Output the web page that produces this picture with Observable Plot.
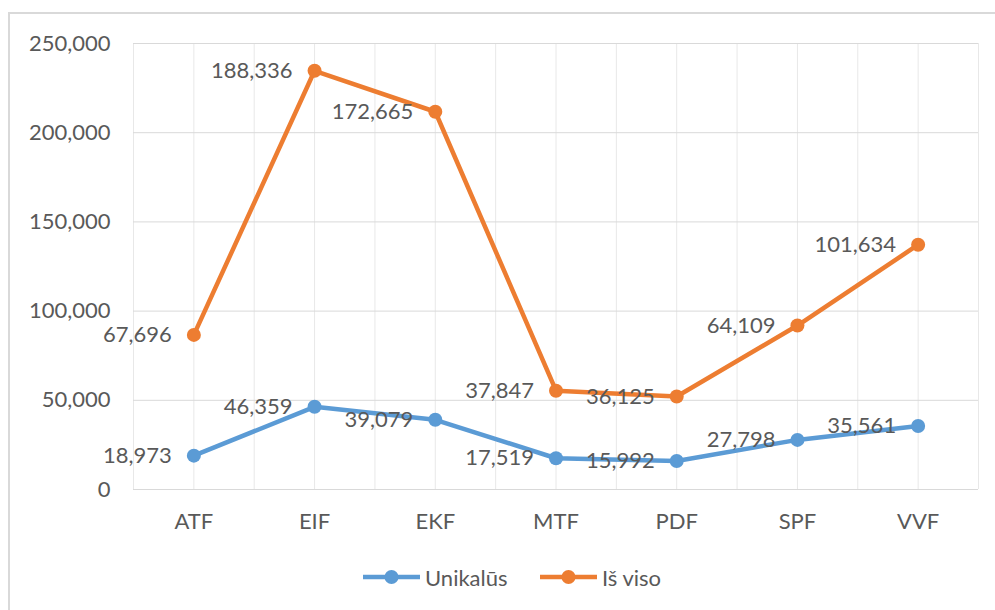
<!DOCTYPE html>
<html>
<head>
<meta charset="utf-8">
<script src="https://cdn.jsdelivr.net/npm/d3@7"></script>
<script src="https://cdn.jsdelivr.net/npm/@observablehq/plot@0.6"></script>
<style>
  html, body { margin: 0; padding: 0; background: #fff; overflow: hidden; }
  #wrap { position: relative; width: 995px; height: 610px; overflow: hidden; font-family: Lato, "Noto Sans", sans-serif; }
  #frame { position: absolute; left: 8px; top: 12px; width: 1000px; height: 620px; border: 2.5px solid #d9d9d9; box-sizing: border-box; }
  #chart { position: absolute; left: 0; top: 0; }
  .leg { position: absolute; top: 565px; height: 24px; display: flex; align-items: center; font-size: 22px; color: #595959; }
  .leg svg { margin-right: 5px; }
</style>
</head>
<body>
<div id="wrap">
  <div id="frame"></div>
  <div id="chart"></div>
  <div class="leg" style="left:363px"><svg width="57" height="20"><line x1="0" y1="10" x2="57" y2="10" stroke="#5B9BD5" stroke-width="4.5"/><circle cx="28.5" cy="10" r="7" fill="#5B9BD5"/></svg><span>Unikalūs</span></div>
  <div class="leg" style="left:540px"><svg width="57" height="20"><line x1="0" y1="10" x2="57" y2="10" stroke="#ED7D31" stroke-width="4.5"/><circle cx="28.5" cy="10" r="7" fill="#ED7D31"/></svg><span>Iš viso</span></div>
</div>
<script>
const categories = ["ATF", "EIF", "EKF", "MTF", "PDF", "SPF", "VVF"];
const unikalus = [18973, 46359, 39079, 17519, 15992, 27798, 35561];
const isViso = [67696, 188336, 172665, 37847, 36125, 64109, 101634];
const yTicks = [0, 50000, 100000, 150000, 200000, 250000];

const fmt = d3.format(",");
const rows = categories.map((c, i) => ({
  i, cat: c, u: unikalus[i], t: isViso[i], top: unikalus[i] + isViso[i]
}));

const chart = Plot.plot({
  width: 995,
  height: 540,
  marginLeft: 133,
  marginRight: 17,
  marginTop: 43,
  marginBottom: 51,
  style: { fontFamily: "Lato, 'Noto Sans', sans-serif", fontSize: "22px", color: "#595959", background: "transparent" },
  x: { type: "linear", domain: [-0.5, categories.length - 0.5] },
  y: { domain: [0, 250000] },
  marks: [
    Plot.ruleX(d3.range(-0.5, categories.length, 0.5), { stroke: "#e8e8e8", strokeWidth: 1 }),
    Plot.ruleY(yTicks, { stroke: "#d9d9d9", strokeWidth: 1 }),
    Plot.axisY({ ticks: yTicks, tickFormat: fmt, tickSize: 0, tickPadding: 23, label: null }),
    Plot.axisX({ ticks: d3.range(categories.length), tickFormat: i => categories[i], tickSize: 0, tickPadding: 24, label: null }),
    Plot.line(rows, { x: "i", y: "u", stroke: "#5B9BD5", strokeWidth: 4.5 }),
    Plot.line(rows, { x: "i", y: "top", stroke: "#ED7D31", strokeWidth: 4.5 }),
    Plot.dot(rows, { x: "i", y: "u", r: 7, fill: "#5B9BD5" }),
    Plot.dot(rows, { x: "i", y: "top", r: 7, fill: "#ED7D31" }),
    Plot.text(rows, { x: "i", y: "u", text: d => fmt(d.u), textAnchor: "end", dx: -22, fill: "#595959" }),
    Plot.text(rows, { x: "i", y: "top", text: d => fmt(d.t), textAnchor: "end", dx: -22, fill: "#595959" })
  ]
});
document.getElementById("chart").appendChild(chart);
</script>
</body>
</html>
